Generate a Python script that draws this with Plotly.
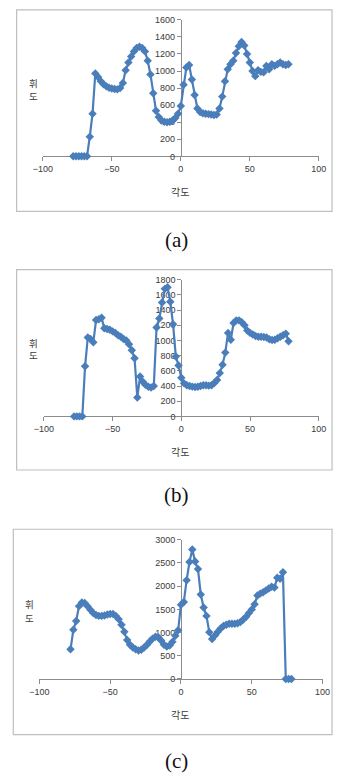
import plotly.graph_objects as go

W, H = 341, 784

angles = list(range(-78, 79, 2))

lum_a = [0, 0, 0, 0, 0, 0, 230, 500, 970, 930,
         880, 845, 820, 805, 795, 790, 785, 800, 860, 1010,
         1100, 1170, 1230, 1270, 1285, 1270, 1230, 1120, 960, 740,
         535, 460, 420, 405, 400, 405, 420, 450, 500, 590,
         840, 1040, 1070, 900, 720, 560, 520, 505, 500, 495,
         490, 485, 490, 560, 700, 880, 1020, 1080, 1120, 1210,
         1290, 1340, 1300, 1200, 1100, 1000, 940, 1010, 990, 985,
         1060, 1020, 1080, 1060, 1080, 1100, 1080, 1070, 1080]

lum_b = [0, 0, 0, 0, 660, 1040, 1020, 975, 1270, 1280,
         1300, 1160, 1150, 1140, 1120, 1100, 1070, 1050, 1020, 1000,
         950, 870, 765, 250, 525, 455, 415, 390, 380, 400,
         1170, 1290, 1500, 1680, 1700, 1510, 1215, 790, 670, 510,
         435, 410, 400, 392, 388, 390, 400, 410, 410, 405,
         410, 440, 480, 570, 680, 840, 1100, 1010, 1230, 1265,
         1265, 1240, 1200, 1130, 1100, 1080, 1060, 1050, 1050, 1045,
         1040, 1015, 1005, 1010, 1030, 1050, 1070, 1090, 990]

lum_c = [640, 1060, 1250, 1570, 1650, 1640, 1570, 1490, 1420, 1380,
         1360, 1360, 1370, 1390, 1400, 1400, 1360, 1290, 1170, 1020,
         840, 740, 680, 640, 615, 630, 680, 740, 810, 870,
         910, 900, 830, 740, 700, 720, 800, 930, 1050, 1600,
         1660, 2130, 2520, 2790, 2530, 2370, 1820, 1540, 1360, 1010,
         860, 940, 1020, 1090, 1140, 1170, 1190, 1190, 1190, 1200,
         1230, 1280, 1340, 1420, 1500, 1610, 1800, 1840, 1870, 1910,
         1950, 1990, 1970, 2180, 2160, 2300, 0, 0, 0]

x_ticks = [-100, -50, 0, 50, 100]
y_ticks_a = list(range(0, 1601, 200))
y_ticks_b = list(range(0, 1801, 200))
y_ticks_c = list(range(0, 3001, 500))

captions = ["(a)", "(b)", "(c)"]
y_title_chars = ["휘", "도"]
x_title = "각도"

assert len(angles) == len(lum_a) == len(lum_b) == len(lum_c)

def px(x):
    return x / W

def py(y):
    return 1 - y / H

LINE = "#4a7ebb"
AXC = "#8c8c8c"
TXT = "#3a3a3a"
FONT = "Liberation Sans, Arial, sans-serif"
KFONT = "Noto Sans CJK KR, sans-serif"

panels = [
    dict(vals=lum_a, yt=y_ticks_a, xd=(34.7, 326), yd=(153.3, 15), box=(7, 5, 340, 209),
         cap=238, yt_pos=(25, 79.5, 92.5), xt=189),
    dict(vals=lum_b, yt=y_ticks_b, xd=(35.7, 326), yd=(416.7, 278.3), box=(7, 268, 340, 471),
         cap=496.5, yt_pos=(25, 342, 355), xt=452),
    dict(vals=lum_c, yt=y_ticks_c, xd=(31, 330), yd=(682.7, 541.7), box=(3.5, 531, 340, 739),
         cap=766, yt_pos=(21, 607, 621), xt=719),
]

fig = go.Figure()
layout = dict(
    width=W, height=H, autosize=False,
    margin=dict(l=0, r=0, t=0, b=0, pad=0),
    paper_bgcolor="white", plot_bgcolor="rgba(0,0,0,0)",
    showlegend=False,
)
shapes = []
annotations = []

for i, p in enumerate(panels, start=1):
    sfx = "" if i == 1 else str(i)
    fig.add_trace(go.Scatter(
        x=angles, y=p["vals"], mode="lines+markers",
        xaxis="x" + sfx, yaxis="y" + sfx,
        line=dict(color=LINE, width=2.2),
        marker=dict(symbol="diamond", size=6.5, color=LINE),
        cliponaxis=False, hoverinfo="skip",
    ))
    x0, x1 = p["xd"]
    yb, ytp = p["yd"]
    yt = p["yt"]
    layout["xaxis" + sfx] = dict(
        domain=[px(x0), px(x1)], range=[-100, 100], anchor="y" + sfx,
        tickvals=x_ticks, ticks="outside", ticklen=4, tickcolor=AXC,
        showline=True, linecolor=AXC, linewidth=1, showgrid=False, zeroline=False,
        tickfont=dict(family=FONT, size=9, color=TXT), layer="below traces",
        fixedrange=True,
    )
    layout["yaxis" + sfx] = dict(
        domain=[py(yb), py(ytp)], range=[0, yt[-1]], anchor="free",
        position=px(x0 + (x1 - x0) / 2), side="left",
        tickvals=yt, ticks="outside", ticklen=4, tickcolor=AXC,
        showline=True, linecolor=AXC, linewidth=1, showgrid=False, zeroline=False,
        tickfont=dict(family=FONT, size=9, color=TXT), layer="below traces",
        fixedrange=True,
    )
    bx0, by0, bx1, by1 = p["box"]
    shapes.append(dict(type="rect", xref="paper", yref="paper",
                       x0=px(bx0), x1=px(bx1), y0=py(by1), y1=py(by0),
                       line=dict(color="#bfbfbf", width=1.2), layer="below"))
    annotations.append(dict(text=captions[i - 1], xref="paper", yref="paper",
                            x=px(176), y=py(p["cap"]), showarrow=False,
                            xanchor="center", yanchor="middle",
                            font=dict(family="Liberation Serif, Times New Roman, serif", size=21, color="#111")))
    tx, ty1, ty2 = p["yt_pos"]
    for ch, tyy in zip(y_title_chars, (ty1, ty2)):
        annotations.append(dict(text=ch, xref="paper", yref="paper",
                                x=px(tx), y=py(tyy), showarrow=False, textangle=0,
                                xanchor="center", yanchor="middle", borderpad=0,
                                font=dict(family=KFONT, size=9.5, color=TXT)))
    annotations.append(dict(text=x_title, xref="paper", yref="paper",
                            x=px(180), y=py(p["xt"]), showarrow=False,
                            xanchor="center", yanchor="middle",
                            font=dict(family=KFONT, size=10, color=TXT)))

layout["shapes"] = shapes
layout["annotations"] = annotations
fig.update_layout(**layout)
fig.write_html(
    "out.html",
    config={"responsive": False, "displayModeBar": False},
    post_script=("document.body.style.margin='0';"
                 "document.body.style.overflow='hidden';"
                 "document.documentElement.style.overflow='hidden';"),
)
